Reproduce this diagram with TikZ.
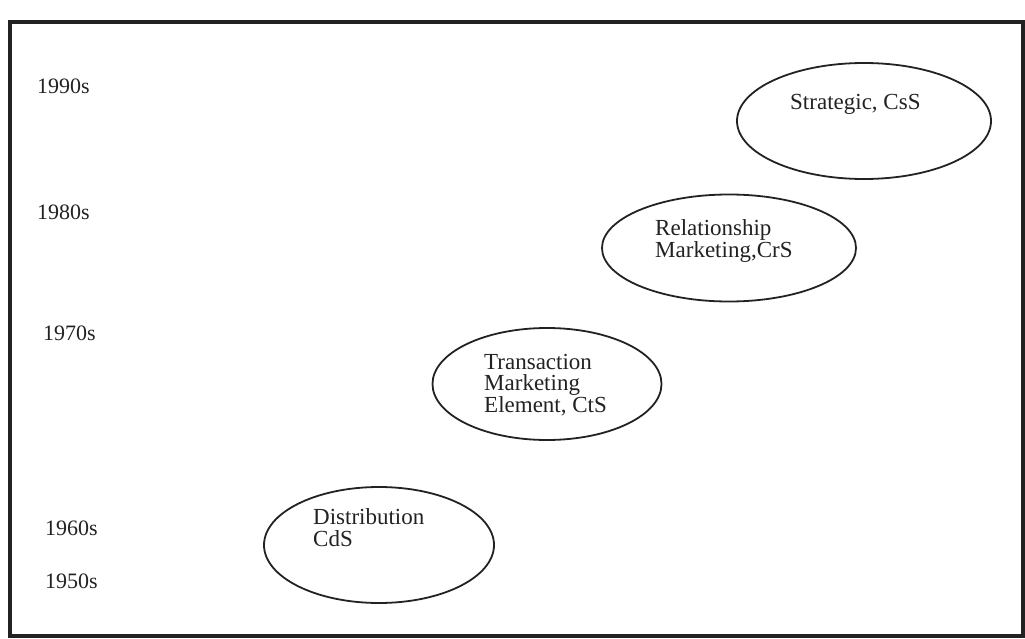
\documentclass[tikz,border=0pt]{standalone}
\usepackage{fontspec}
\setmainfont{Liberation Serif}
\usetikzlibrary{shapes.geometric}
\definecolor{ink}{HTML}{222222}
\begin{document}
\begin{tikzpicture}[x=1pt,y=-1pt,
  era/.style={ellipse, draw=ink, line width=1.8pt, inner sep=0pt},
  year/.style={anchor=base west, inner sep=0pt, text=ink, font=\fontsize{22}{22}\selectfont},
  label/.style={anchor=base west, inner sep=0pt, text=ink, align=left,
    font=\fontsize{23}{21.5}\selectfont},
]
\useasboundingbox (0,0) rectangle (1025,639);
% outer frame
\draw[ink, line width=3.5pt] (10,22) rectangle (1023,636);

% decade labels
\node[year] (y90) at (37,94) {1990s};
\node[year] (y80) at (37,219) {1980s};
\node[year] (y70) at (43,340) {1970s};
\node[year] (y60) at (45,535) {1960s};
\node[year] (y50) at (45,588) {1950s};

% stages (base anchor sits on the last line of each label)
\node[era, minimum width=254, minimum height=116] (strat) at (864,121) {};
\node[label] (tstrat) at (790,110) {Strategic, CsS};

\node[era, minimum width=254, minimum height=107] (rel) at (729,248) {};
\node[label] (trel) at (655,257) {Relationship\\Marketing,CrS};

\node[era, minimum width=229, minimum height=112] (trans) at (547,384) {};
\node[label] (ttrans) at (484,412) {Transaction\\Marketing\\Element, CtS};

\node[era, minimum width=230, minimum height=116] (dist) at (379,545) {};
\node[label] (tdist) at (313,546) {Distribution\\CdS};
\end{tikzpicture}
\end{document}
